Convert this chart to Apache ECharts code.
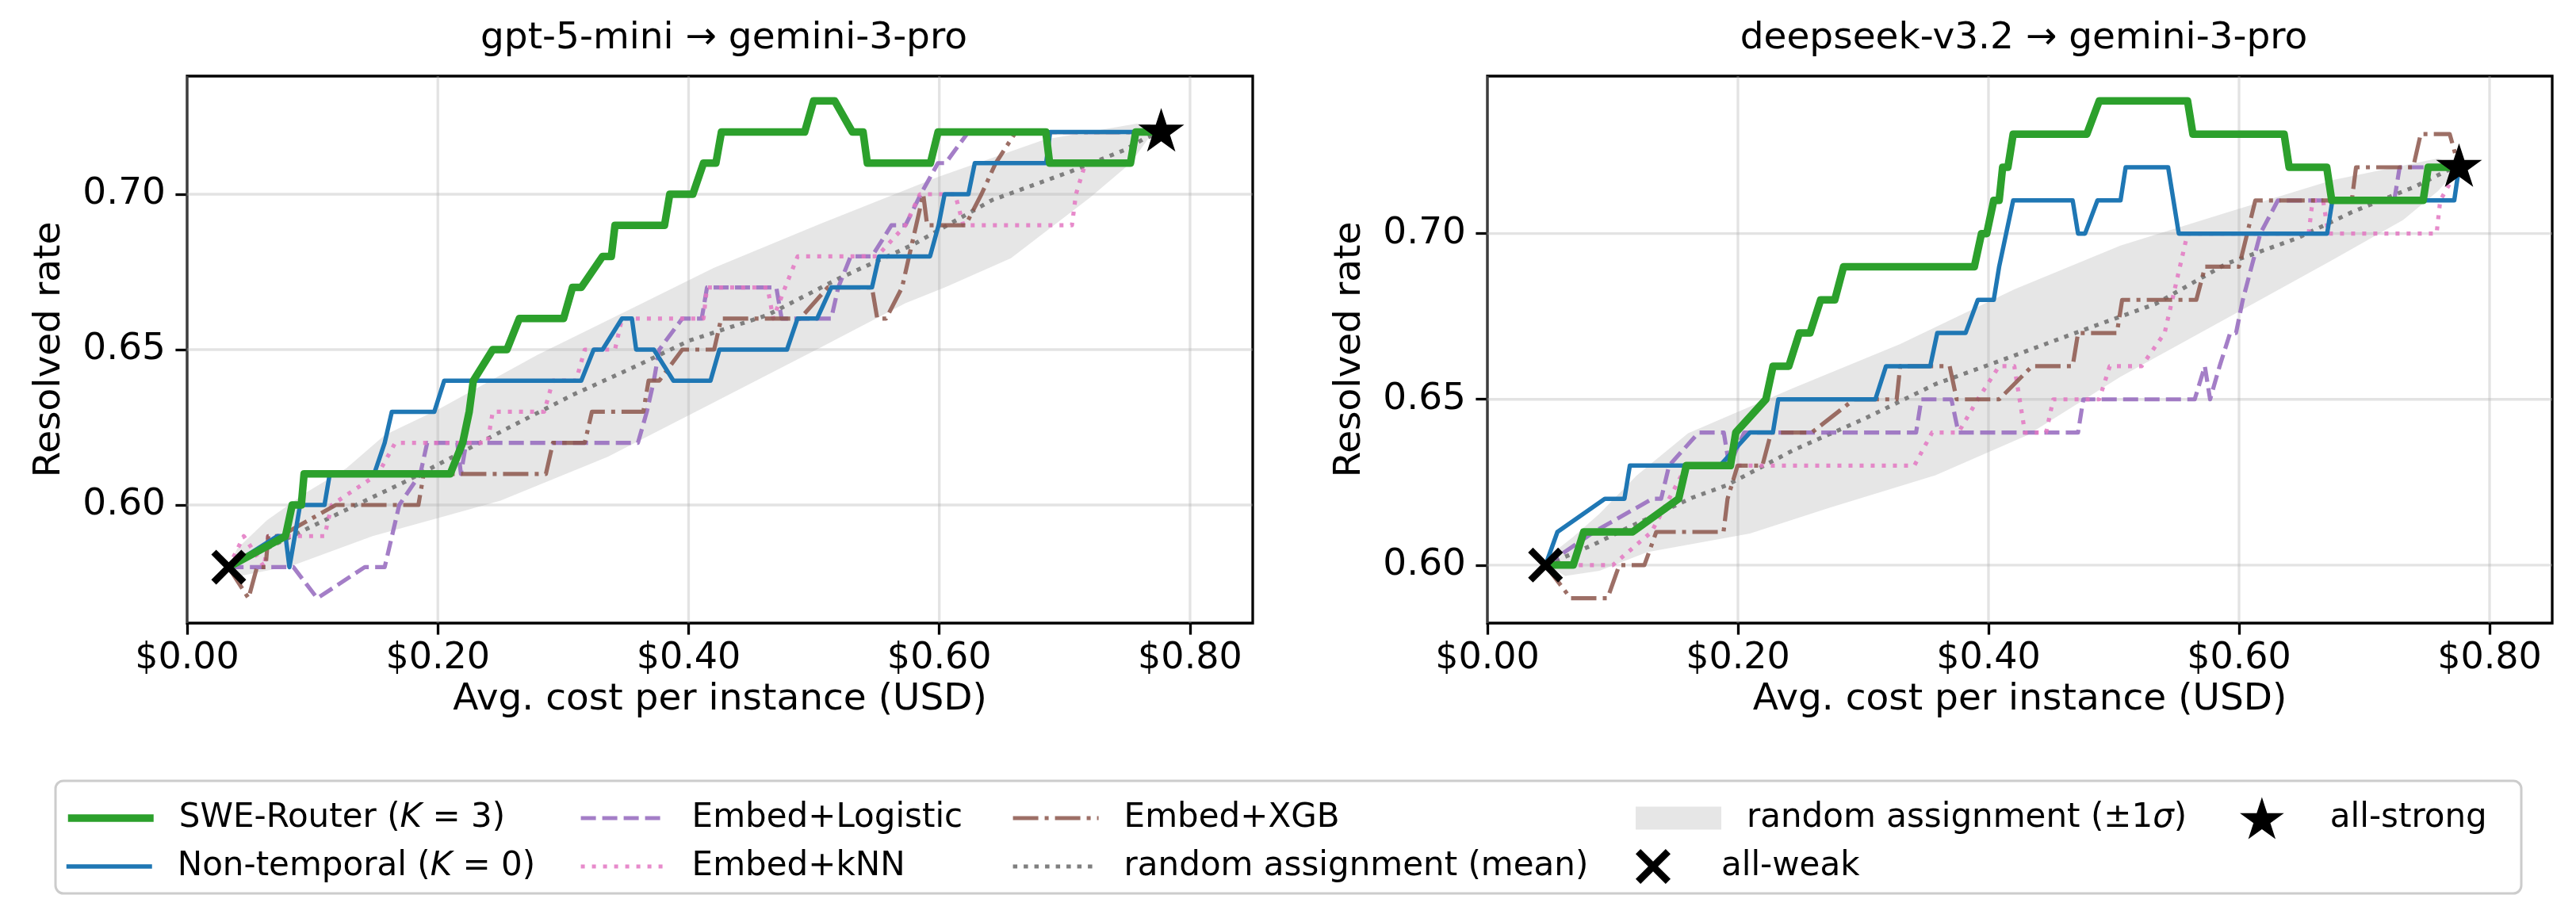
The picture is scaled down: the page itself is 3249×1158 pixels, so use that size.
<!DOCTYPE html>
<html><head><meta charset="utf-8">
<script src="https://cdn.jsdelivr.net/npm/echarts@6/dist/echarts.min.js"></script>
<style>html,body{margin:0;padding:0;background:#fff}#c{width:3249px;height:1158px}</style>
</head><body><div id="c"></div>
<script>
// ---------- data ----------
const titles = ['gpt-5-mini \u2192 gemini-3-pro', 'deepseek-v3.2 \u2192 gemini-3-pro'];
const xTicks = [0, 0.2, 0.4, 0.6, 0.8];
const yTicks = [0.60, 0.65, 0.70];
const xRange = [0, 0.85];
const yRangeL = [0.562, 0.738];
const yRangeR = [0.5825, 0.7475];
const names = ['SWE-Router (K = 3)', 'Non-temporal (K = 0)', 'Embed+Logistic', 'Embed+kNN', 'Embed+XGB',
  'random assignment (mean)', 'random assignment (\u00b11\u03c3)', 'all-weak', 'all-strong'];

// left panel: gpt-5-mini -> gemini-3-pro
const L_swe = [[0.033,0.58],[0.0785,0.59],[0.0838,0.60],[0.0911,0.60],[0.0933,0.61],[0.2099,0.61],[0.2198,0.62],[0.225,0.63],[0.2283,0.64],[0.2438,0.65],[0.2551,0.65],[0.265,0.66],[0.3003,0.66],[0.3074,0.67],[0.3144,0.67],[0.3314,0.68],[0.3384,0.68],[0.3413,0.69],[0.3808,0.69],[0.385,0.70],[0.4034,0.70],[0.4119,0.71],[0.4218,0.71],[0.4262,0.72],[0.4926,0.72],[0.4997,0.73],[0.5166,0.73],[0.5307,0.72],[0.5392,0.72],[0.5426,0.71],[0.5929,0.71],[0.599,0.72],[0.6850,0.72],[0.6880,0.71],[0.7525,0.71],[0.7567,0.72],[0.777,0.72]];
const L_nontemp = [[0.033,0.58],[0.072,0.59],[0.0785,0.59],[0.0816,0.58],[0.0859,0.59],[0.0901,0.60],[0.1096,0.60],[0.1138,0.61],[0.1492,0.61],[0.1576,0.62],[0.1633,0.63],[0.1972,0.63],[0.2051,0.64],[0.3144,0.64],[0.3243,0.65],[0.3314,0.65],[0.3469,0.66],[0.3548,0.66],[0.3582,0.65],[0.3723,0.65],[0.3879,0.64],[0.4175,0.64],[0.4246,0.65],[0.4785,0.65],[0.4869,0.66],[0.5025,0.66],[0.5138,0.67],[0.5463,0.67],[0.5519,0.68],[0.5926,0.68],[0.5994,0.69],[0.6042,0.70],[0.6232,0.70],[0.6283,0.71],[0.6852,0.71],[0.6884,0.72],[0.7549,0.72],[0.777,0.72]];
const L_logistic = [[0.033,0.58],[0.0848,0.58],[0.1038,0.57],[0.1417,0.58],[0.1576,0.58],[0.1692,0.60],[0.186,0.61],[0.1915,0.62],[0.2155,0.62],[0.2184,0.61],[0.2226,0.62],[0.3596,0.62],[0.3667,0.63],[0.3723,0.64],[0.3766,0.65],[0.395,0.66],[0.4105,0.66],[0.4147,0.67],[0.47,0.67],[0.4742,0.66],[0.5138,0.66],[0.5194,0.67],[0.5293,0.68],[0.5463,0.68],[0.5618,0.69],[0.573,0.69],[0.5852,0.70],[0.5989,0.71],[0.605,0.71],[0.6232,0.72],[0.777,0.72]];
const L_knn = [[0.033,0.58],[0.0452,0.59],[0.0615,0.58],[0.0645,0.59],[0.1096,0.59],[0.1154,0.60],[0.1523,0.61],[0.166,0.62],[0.2396,0.62],[0.2438,0.63],[0.2848,0.63],[0.2918,0.64],[0.3102,0.64],[0.3172,0.65],[0.3413,0.65],[0.3469,0.66],[0.4119,0.66],[0.4147,0.67],[0.463,0.67],[0.4675,0.66],[0.477,0.67],[0.487,0.68],[0.5503,0.68],[0.573,0.69],[0.5845,0.70],[0.6126,0.70],[0.6192,0.69],[0.7058,0.69],[0.709,0.70],[0.7166,0.71],[0.752,0.71],[0.757,0.72],[0.777,0.72]];
const L_xgb = [[0.033,0.58],[0.049,0.57],[0.0557,0.58],[0.0626,0.58],[0.0647,0.59],[0.0743,0.59],[0.1186,0.60],[0.1845,0.60],[0.1887,0.61],[0.2862,0.61],[0.2918,0.62],[0.3172,0.62],[0.3229,0.63],[0.3639,0.63],[0.3681,0.64],[0.3766,0.64],[0.395,0.65],[0.4204,0.65],[0.426,0.66],[0.489,0.66],[0.511,0.67],[0.5463,0.67],[0.5505,0.66],[0.5576,0.66],[0.5703,0.67],[0.5759,0.68],[0.5872,0.70],[0.5903,0.69],[0.6209,0.69],[0.6336,0.70],[0.645,0.71],[0.661,0.72],[0.777,0.72]];
const L_mean = [[0.033,0.58],[0.0964,0.5925],[0.1312,0.5993],[0.1734,0.6074],[0.2509,0.6237],[0.3074,0.6354],[0.3582,0.6447],[0.4006,0.6529],[0.4629,0.6611],[0.5194,0.6728],[0.5787,0.6837],[0.642,0.6981],[0.7053,0.7074],[0.7475,0.7142],[0.7622,0.7176],[0.777,0.72]];
const L_bandHi = [[0.033,0.58],[0.04,0.586],[0.0637,0.5951],[0.0953,0.6041],[0.127,0.6118],[0.1577,0.6225],[0.2,0.6307],[0.279,0.6482],[0.35,0.6623],[0.42,0.6763],[0.5048,0.6904],[0.5998,0.7057],[0.684,0.7176],[0.7574,0.7227],[0.768,0.7227],[0.777,0.72]];
const L_bandLo = [[0.033,0.58],[0.0426,0.5772],[0.0848,0.5806],[0.148,0.59],[0.2093,0.5968],[0.25,0.6014],[0.3355,0.6155],[0.42,0.633],[0.5048,0.6506],[0.5729,0.6649],[0.6045,0.67],[0.6571,0.6794],[0.7204,0.699],[0.7526,0.71],[0.768,0.7186],[0.777,0.72]];
const L_weak = [[0.0332,0.58]];
const L_strong = [[0.777,0.72]];

// right panel: deepseek-v3.2 -> gemini-3-pro
const R_swe = [[0.0464,0.60],[0.0685,0.60],[0.0769,0.61],[0.1159,0.61],[0.1527,0.62],[0.1588,0.63],[0.194,0.63],[0.1983,0.64],[0.2223,0.65],[0.228,0.66],[0.2406,0.66],[0.249,0.67],[0.2575,0.67],[0.266,0.68],[0.2773,0.68],[0.2843,0.69],[0.3887,0.69],[0.3944,0.70],[0.3986,0.70],[0.4042,0.71],[0.4085,0.71],[0.4113,0.72],[0.4155,0.72],[0.4197,0.73],[0.4785,0.73],[0.4884,0.74],[0.5589,0.74],[0.5632,0.73],[0.6360,0.73],[0.6400,0.72],[0.6700,0.72],[0.6740,0.71],[0.7470,0.71],[0.7510,0.72],[0.7756,0.72]];
const R_nontemp = [[0.0464,0.60],[0.0559,0.61],[0.0937,0.62],[0.1094,0.62],[0.1137,0.63],[0.1856,0.63],[0.2096,0.64],[0.2279,0.64],[0.2322,0.65],[0.3097,0.65],[0.3182,0.66],[0.3535,0.66],[0.3591,0.67],[0.3817,0.67],[0.3915,0.68],[0.4042,0.68],[0.4085,0.69],[0.4141,0.70],[0.4197,0.71],[0.4672,0.71],[0.4715,0.70],[0.4771,0.70],[0.487,0.71],[0.5054,0.71],[0.5095,0.72],[0.5434,0.72],[0.5519,0.70],[0.6703,0.70],[0.6745,0.71],[0.7718,0.71],[0.7756,0.72]];
const R_logistic = [[0.0464,0.60],[0.085,0.61],[0.1317,0.62],[0.1387,0.62],[0.145,0.63],[0.1687,0.64],[0.1887,0.64],[0.193,0.63],[0.205,0.64],[0.3422,0.64],[0.3464,0.65],[0.3704,0.65],[0.376,0.64],[0.4715,0.64],[0.4757,0.65],[0.5646,0.65],[0.5727,0.66],[0.5769,0.65],[0.5845,0.66],[0.5929,0.67],[0.5976,0.67],[0.603,0.68],[0.61,0.69],[0.617,0.70],[0.631,0.71],[0.7239,0.71],[0.7282,0.72],[0.7756,0.72]];
const R_knn = [[0.0464,0.60],[0.1001,0.60],[0.131,0.61],[0.159,0.63],[0.3408,0.63],[0.355,0.64],[0.376,0.64],[0.3915,0.65],[0.4085,0.66],[0.4206,0.66],[0.4291,0.64],[0.446,0.64],[0.4517,0.65],[0.4884,0.65],[0.4968,0.66],[0.5222,0.66],[0.5406,0.67],[0.5589,0.70],[0.6556,0.70],[0.6587,0.71],[0.6671,0.71],[0.6713,0.70],[0.7577,0.70],[0.7606,0.71],[0.7756,0.72]];
const R_xgb = [[0.0464,0.60],[0.0664,0.59],[0.0959,0.59],[0.1053,0.60],[0.1253,0.60],[0.1348,0.61],[0.1885,0.61],[0.1917,0.62],[0.1997,0.63],[0.2195,0.63],[0.2265,0.64],[0.259,0.64],[0.2928,0.65],[0.3267,0.65],[0.3295,0.66],[0.369,0.66],[0.3746,0.65],[0.4085,0.65],[0.4348,0.66],[0.4672,0.66],[0.4715,0.67],[0.5025,0.67],[0.5067,0.68],[0.5659,0.68],[0.5729,0.69],[0.6,0.69],[0.613,0.71],[0.69,0.71],[0.6934,0.72],[0.739,0.72],[0.745,0.73],[0.7682,0.73],[0.7756,0.72]];
const R_mean = [[0.0464,0.60],[0.0843,0.6061],[0.1106,0.611],[0.1633,0.6203],[0.1906,0.624],[0.2449,0.6348],[0.3013,0.6442],[0.3577,0.6546],[0.4141,0.6623],[0.4771,0.6711],[0.5335,0.6788],[0.5899,0.6909],[0.6464,0.6986],[0.6903,0.7065],[0.7407,0.7142],[0.7661,0.719],[0.7756,0.72]];
const R_bandHi = [[0.0464,0.60],[0.055,0.6045],[0.0685,0.6085],[0.0895,0.6155],[0.119,0.627],[0.1602,0.6398],[0.2449,0.6535],[0.3295,0.6667],[0.4206,0.6832],[0.5054,0.6964],[0.5899,0.7063],[0.6745,0.7161],[0.759,0.7227],[0.7756,0.72]];
const R_bandLo = [[0.0464,0.60],[0.0622,0.5967],[0.0895,0.5983],[0.1275,0.6039],[0.2096,0.6095],[0.2731,0.6173],[0.3577,0.6271],[0.431,0.6392],[0.5054,0.6568],[0.5899,0.6744],[0.6745,0.692],[0.731,0.7041],[0.759,0.7129],[0.7756,0.72]];
const R_weak = [[0.0464,0.60]];
const R_strong = [[0.7756,0.72]];

// ---------- styles ----------
const FONT = 'DejaVu Sans';
const GREEN = '#2ca02c', BLUE = '#1f77b4', PURPLE = 'rgba(148,103,189,0.85)', PINK = 'rgba(227,119,194,0.85)',
      BROWN = 'rgba(140,86,75,0.85)', GRAY = '#7f7f7f', BAND = 'rgba(128,128,128,0.2)', GRID = 'rgba(176,176,176,0.35)';
const STAR = 'path://M50,0 L61.23,34.55 L97.55,34.55 L68.17,55.9 L79.39,90.45 L50,69.1 L20.61,90.45 L31.83,55.9 L2.45,34.55 L38.77,34.55 Z';
const CROSS = 'path://M0,14 L14,0 L50,36 L86,0 L100,14 L64,50 L100,86 L86,100 L50,64 L14,100 L0,86 L36,50 Z';
const lineStyles = {
  [names[0]]: {color: GREEN, width: 9.5, type: 'solid', z: 8},
  [names[1]]: {color: BLUE, width: 5.5, type: 'solid', z: 7},
  [names[2]]: {color: PURPLE, width: 5.2, type: [19, 8], z: 4},
  [names[3]]: {color: PINK, width: 5.2, type: [5, 9], z: 5},
  [names[4]]: {color: BROWN, width: 5.2, type: [32, 8, 5, 8], z: 6},
  [names[5]]: {color: GRAY, width: 5.2, type: [5.5, 8], z: 3}
};

const gridsPx = [{left: 236, top: 96, width: 1344, height: 690}, {left: 1876, top: 96, width: 1343, height: 690}];
const panels = [
  {lines: [L_swe, L_nontemp, L_logistic, L_knn, L_xgb, L_mean], hi: L_bandHi, lo: L_bandLo, weak: L_weak, strong: L_strong, yr: yRangeL},
  {lines: [R_swe, R_nontemp, R_logistic, R_knn, R_xgb, R_mean], hi: R_bandHi, lo: R_bandLo, weak: R_weak, strong: R_strong, yr: yRangeR}
];

const grid = [], xAxis = [], yAxis = [], series = [], title = [];
panels.forEach((p, i) => {
  grid.push(Object.assign({show: true, borderColor: '#000', borderWidth: 3.3, backgroundColor: 'transparent', containLabel: false}, gridsPx[i]));
  title.push({text: titles[i], left: gridsPx[i].left + gridsPx[i].width / 2, top: 20, textAlign: 'center',
    textStyle: {fontFamily: FONT, fontSize: 47, fontWeight: 'normal', color: '#000'}});
  xAxis.push({type: 'value', gridIndex: i, min: xRange[0], max: xRange[1],
    axisLine: {show: false}, splitLine: {show: false},
    axisTick: {show: true, inside: false, length: 14.6, lineStyle: {color: '#000', width: 3.3}, customValues: xTicks},
    axisLabel: {customValues: xTicks, formatter: v => '$' + v.toFixed(2), fontFamily: FONT, fontSize: 46, color: '#000', margin: 22},
    name: 'Avg. cost per instance (USD)', nameLocation: 'middle', nameGap: 68,
    nameTextStyle: {fontFamily: FONT, fontSize: 47, color: '#000'}});
  yAxis.push({type: 'value', gridIndex: i, min: p.yr[0], max: p.yr[1],
    axisLine: {show: false}, splitLine: {show: false},
    axisTick: {show: true, inside: false, length: 14.6, lineStyle: {color: '#000', width: 3.3}, customValues: yTicks},
    axisLabel: {customValues: yTicks, formatter: v => v.toFixed(2), fontFamily: FONT, fontSize: 47, color: '#000', margin: 27},
    name: 'Resolved rate', nameLocation: 'middle', nameGap: 150,
    nameTextStyle: {fontFamily: FONT, fontSize: 47, color: '#000'}});

  // ±1σ band
  const poly = p.hi.concat(p.lo.slice().reverse());
  series.push({name: names[6], type: 'custom', xAxisIndex: i, yAxisIndex: i, z: 1, silent: true,
    itemStyle: {color: BAND},
    data: [[0.4, 0.65]],
    renderItem: (params, api) => ({type: 'polygon', shape: {points: poly.map(q => api.coord(q))}, style: {fill: BAND}})});
  // gridlines
  const gdata = xTicks.map(v => [v, p.yr[0], 0]).concat(yTicks.map(v => [xRange[0], v, 1]));
  series.push({name: '_grid' + i, type: 'custom', xAxisIndex: i, yAxisIndex: i, z: 2, silent: true,
    data: gdata,
    renderItem: (params, api) => {
      const c = api.coord([api.value(0), api.value(1)]);
      const cs = params.coordSys;
      const shape = api.value(2) === 0 ? {x1: c[0], y1: cs.y, x2: c[0], y2: cs.y + cs.height}
                                       : {x1: cs.x, y1: c[1], x2: cs.x + cs.width, y2: c[1]};
      return {type: 'line', shape, style: {stroke: GRID, lineWidth: 3.3}};
    }});
  p.lines.forEach((d, k) => {
    const s = lineStyles[names[k]];
    series.push({name: names[k], type: 'line', xAxisIndex: i, yAxisIndex: i, data: d, z: s.z,
      symbol: 'none', showSymbol: false, smooth: false, clip: true,
      itemStyle: {color: s.color},
      lineStyle: {color: s.color, width: s.width, type: s.type, cap: 'butt', join: 'round'}});
  });
  series.push({name: names[7], type: 'scatter', xAxisIndex: i, yAxisIndex: i, data: p.weak, z: 10,
    symbol: CROSS, symbolSize: 44, itemStyle: {color: '#000', opacity: 1}});
  series.push({name: names[8], type: 'scatter', xAxisIndex: i, yAxisIndex: i, data: p.strong, z: 10,
    symbol: STAR, symbolSize: [58, 55], symbolOffset: [0, -2.8], itemStyle: {color: '#000', opacity: 1}});
});

// legend (5 columns, matplotlib-like, column-major)
const rich = {n: {fontFamily: FONT, fontSize: 42, color: '#000'}, i: {fontFamily: FONT, fontSize: 42, fontStyle: 'italic', color: '#000'}};
function fmt(name) {
  if (name === names[0]) return '{n|SWE-Router (}{i|K}{n| = 3)}';
  if (name === names[1]) return '{n|Non-temporal (}{i|K}{n| = 0)}';
  if (name === names[6]) return '{n|random assignment (\u00b11}{i|\u03c3}{n|)}';
  return '{n|' + name + '}';
}
const legendCells = [
  {k: 0, left: 81, cy: 1032}, {k: 1, left: 81, cy: 1093},
  {k: 2, left: 730, cy: 1032}, {k: 3, left: 730, cy: 1093},
  {k: 4, left: 1275, cy: 1032}, {k: 5, left: 1275, cy: 1093},
  {k: 6, left: 2063, cy: 1032}, {k: 7, left: 2063, cy: 1093},
  {k: 8, left: 2825, cy: 1032}
];
const legend = legendCells.map(c => {
  const nm = names[c.k];
  let item = {name: nm}, ih = 14;
  if (c.k <= 5) {
    const s = lineStyles[nm];
    item.lineStyle = {color: s.color, width: s.width, type: s.type};
    item.itemStyle = {opacity: 0, color: 'rgba(0,0,0,0)', borderWidth: 0};
  } else if (c.k === 6) { item.icon = 'rect'; item.itemStyle = {color: BAND}; ih = 29; }
  else if (c.k === 7) { ih = 44; item.itemStyle = {color: '#000', opacity: 1}; }
  else { ih = 53; item.itemStyle = {color: '#000', opacity: 1}; }
  const h = Math.max(ih, 48);
  return {show: true, left: c.left, top: c.cy - h / 2, orient: 'horizontal', padding: 0, itemGap: 0,
    itemWidth: 108, itemHeight: ih, selectedMode: false, data: [item], formatter: fmt,
    textStyle: {fontFamily: FONT, fontSize: 42, color: '#000', lineHeight: 48, padding: [0, 0, 0, 27], rich}};
});

const chart = echarts.init(document.getElementById('c'), null, {renderer: 'canvas', width: 3249, height: 1158});
chart.setOption({
  animation: false, backgroundColor: '#fff',
  title, grid, xAxis, yAxis, series, legend,
  graphic: [{type: 'rect', z: -1, shape: {x: 70, y: 985, width: 3110, height: 142, r: 10},
    style: {fill: '#fff', stroke: '#cccccc', lineWidth: 3}}]
});
</script></body></html>
